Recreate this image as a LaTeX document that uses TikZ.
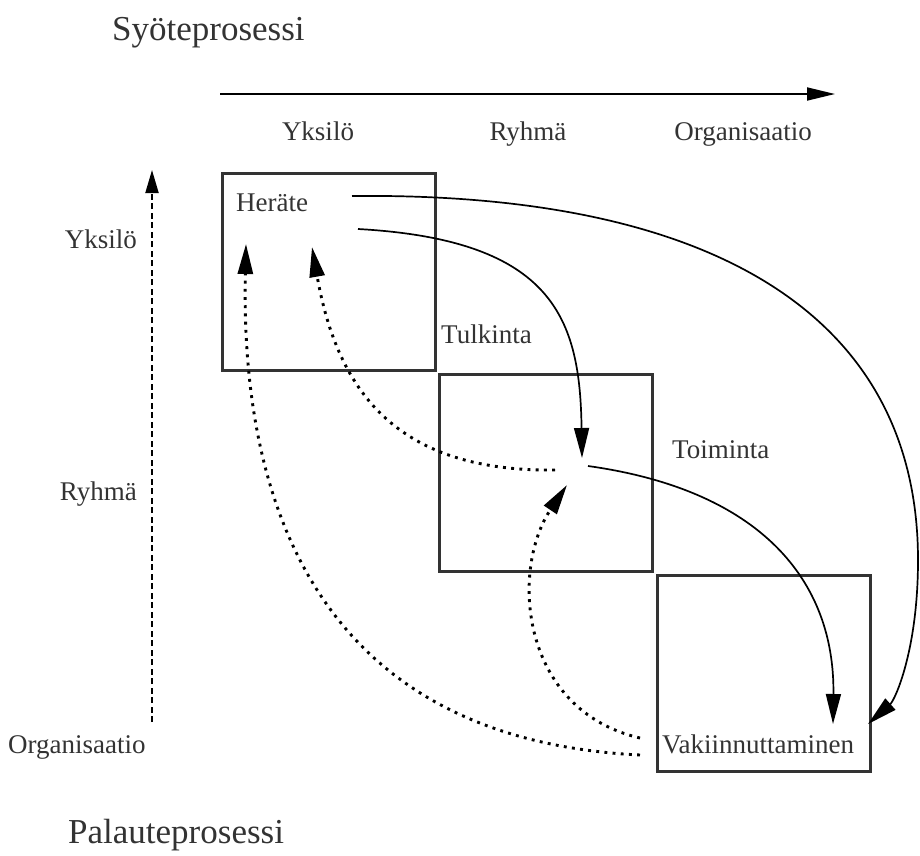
\documentclass[tikz,border=0pt]{standalone}
\usepackage{fontspec}
\setmainfont{Liberation Serif}
\usetikzlibrary{arrows.meta}
\definecolor{ink}{HTML}{333333}
\begin{document}
\begin{tikzpicture}[x=1pt,y=-1pt,
  lbl/.style={font=\fontsize{27}{30}\selectfont, text=ink, inner sep=0pt},
  head/.style={font=\fontsize{35}{40}\selectfont, text=ink, inner sep=0pt},
  panel/.style={draw=ink, line width=3pt},
  tip/.style={-{Triangle[length=30pt,width=15pt]}},
  flow/.style={tip, line width=1.7pt},
  back/.style={tip, line width=2.9pt, dash pattern=on 2.9pt off 5.3pt},
]
\useasboundingbox (0,0) rectangle (920,855);

% titles
\node[head, anchor=base west] (syote) at (112,40) {Syöteprosessi};
\node[head, anchor=base west] (palaute) at (68,843) {Palauteprosessi};

% horizontal axis
\coordinate (hx0) at (220,94);
\coordinate (hx1) at (835,94);
\draw[line width=1.8pt, -{Triangle[length=28pt,width=13pt]}] (hx0) -- (hx1);
\node[lbl, anchor=base] (hy) at (318,140) {Yksilö};
\node[lbl, anchor=base] (hr) at (528,140) {Ryhmä};
\node[lbl, anchor=base] (ho) at (743,140) {Organisaatio};

% vertical axis
\coordinate (vy0) at (152,722);
\coordinate (vy1) at (152,170);
\draw[line width=1.9pt, dash pattern=on 6pt off 3.5pt, -{Triangle[length=23pt,width=13pt]}] (vy0) -- (vy1);
\node[lbl, anchor=base east] (vy) at (137,248) {Yksilö};
\node[lbl, anchor=base east] (vr) at (137,500) {Ryhmä};
\node[lbl, anchor=base west] (vo) at (8,753) {Organisaatio};

% panels
\draw[panel] (222,173) rectangle (435,370);
\draw[panel] (439,374) rectangle (652,571);
\draw[panel] (657,575) rectangle (870,771);

% stage labels
\node[lbl, anchor=base west] (herate) at (236,211) {Heräte};
\node[lbl, anchor=base west] (tulkinta) at (441,343) {Tulkinta};
\node[lbl, anchor=base west] (toiminta) at (672,458) {Toiminta};
\node[lbl, anchor=base west] (vakiin) at (662,753) {Vakiinnuttaminen};

% connector end points
\coordinate (hA) at (352,196);
\coordinate (hB) at (358,229);
\coordinate (hC) at (246,244);
\coordinate (hD) at (312,247);
\coordinate (mIn) at (582,458);
\coordinate (mOut) at (588,466);
\coordinate (mL) at (555,470);
\coordinate (mLow) at (567,485);
\coordinate (rim) at (918,560);
\coordinate (vA) at (868,724);
\coordinate (vB) at (833,724);
\coordinate (vC) at (640,738);
\coordinate (vD) at (640,755);

% forward flows
\draw[flow] (hA) .. controls (720,192) and (918,320) .. (rim)
                 .. controls (918,650) and (895,700) .. (vA);
\draw[flow] (hB) .. controls (555,240) and (580,320) .. (mIn);
\draw[flow] (mOut) .. controls (760,490) and (835,580) .. (vB);

% feedback flows
\draw[back] (vD) .. controls (330,740) and (240,520) .. (hC);
\draw[back] (vC) .. controls (520,710) and (510,570) .. (mLow);
\draw[back] (mL) .. controls (400,472) and (338,395) .. (hD);
\end{tikzpicture}
\end{document}
